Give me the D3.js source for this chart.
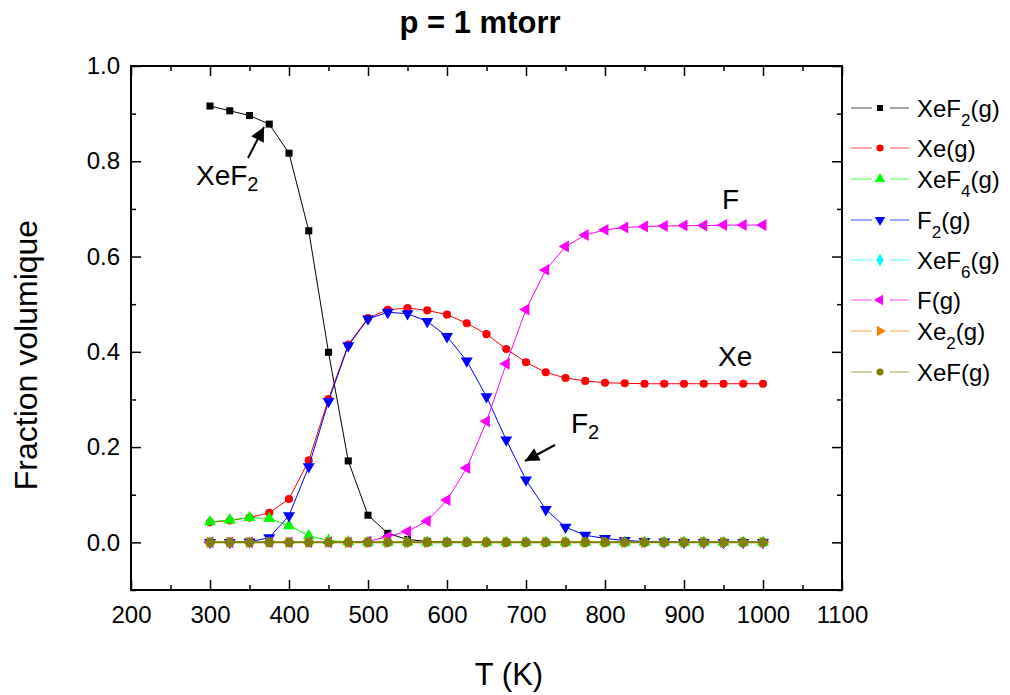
<!DOCTYPE html>
<html><head><meta charset="utf-8">
<script src="https://cdn.jsdelivr.net/npm/d3@7"></script>
<style>body{margin:0;background:#fff}svg{font-family:"Liberation Sans",Arial,sans-serif}</style>
</head><body><svg id="c" width="1010" height="695"></svg>
<script>
const temps = [300,325,350,375,400,425,450,475,500,525,550,575,600,625,650,675,700,725,750,775,800,825,850,875,900,925,950,975,1000];
const xef2 = [0.916,0.906,0.896,0.878,0.817,0.654,0.399,0.171,0.057,0.019,0.006,0.002,0.001,0,0,0,0,0,0,0,0,0,0,0,0,0,0,0,0];
const xe   = [0.042,0.046,0.052,0.062,0.091,0.172,0.301,0.415,0.471,0.488,0.492,0.487,0.478,0.460,0.437,0.406,0.378,0.357,0.345,0.339,0.335,0.334,0.333,0.333,0.333,0.333,0.333,0.333,0.333];
const xef4 = [0.043,0.047,0.052,0.050,0.035,0.014,0.004,0.001,0,0,0,0,0,0,0,0,0,0,0,0,0,0,0,0,0,0,0,0,0];
const f2   = [0,0,0.001,0.010,0.056,0.159,0.296,0.413,0.469,0.483,0.480,0.464,0.432,0.381,0.306,0.215,0.131,0.069,0.032,0.015,0.008,0.004,0.002,0.001,0,0,0,0,0];
const xef6 = [0,0,0,0,0,0,0,0,0,0,0,0,0,0,0,0,0,0,0,0,0,0,0,0,0,0,0,0,0];
const fAt  = [0,0,0,0,0,0,0,0,0.002,0.012,0.023,0.045,0.089,0.156,0.254,0.375,0.489,0.572,0.621,0.645,0.656,0.661,0.663,0.664,0.665,0.665,0.666,0.666,0.666];
const xe2  = [0,0,0,0,0,0,0,0,0,0,0,0,0,0,0,0,0,0,0,0,0,0,0,0,0,0,0,0,0];
const xef  = [0,0,0,0,0,0,0,0,0,0,0,0,0,0,0,0,0,0,0,0,0,0,0,0,0,0,0,0,0];
const xTicks = [200,300,400,500,600,700,800,900,1000,1100];
const yTicks = [0.0,0.2,0.4,0.6,0.8,1.0];

const series = [
  {name:"XeF", sub:"2", tail:"(g)", vals:xef2, color:"#000000", sym:"square"},
  {name:"Xe", sub:"", tail:"(g)", vals:xe, color:"#ff0000", sym:"circle"},
  {name:"XeF", sub:"4", tail:"(g)", vals:xef4, color:"#00ff00", sym:"up"},
  {name:"F", sub:"2", tail:"(g)", vals:f2, color:"#0000ff", sym:"down"},
  {name:"XeF", sub:"6", tail:"(g)", vals:xef6, color:"#00ffff", sym:"diamond"},
  {name:"F", sub:"", tail:"(g)", vals:fAt, color:"#ff00ff", sym:"left"},
  {name:"Xe", sub:"2", tail:"(g)", vals:xe2, color:"#ff8000", sym:"right"},
  {name:"XeF", sub:"", tail:"(g)", vals:xef, color:"#808000", sym:"circle", big:true}
];

const svg = d3.select("#c");
const L=131,R=842,T=66,B=590;
const x = d3.scaleLinear([200,1100],[L,R]);
const y = d3.scaleLinear([-0.1,1.0],[B,T]);

function symPath(kind, size){
  const map = {square:d3.symbolSquare, circle:d3.symbolCircle, diamond:d3.symbolDiamond,
    up:d3.symbolTriangle, down:d3.symbolTriangle, left:d3.symbolTriangle, right:d3.symbolTriangle};
  return d3.symbol().type(map[kind]).size(size)();
}
const rot = {up:0, down:180, left:-90, right:90};

// series
series.forEach(s=>{
  const pts = temps.map((t,i)=>[t,s.vals[i]]);
  svg.append("path").attr("d", d3.line().x(d=>x(d[0])).y(d=>y(d[1]))(pts))
    .attr("fill","none").attr("stroke",s.color).attr("stroke-width",s.big?2:1);
  const sz = s.big?72:(s.sym==="square"?50:(s.sym==="circle"?52:(s.sym==="diamond"?40:62)));
  svg.append("g").selectAll("path").data(pts).join("path")
    .attr("d", symPath(s.sym, sz))
    .attr("transform", d=>`translate(${x(d[0])},${y(d[1])}) rotate(${rot[s.sym]||0})`)
    .attr("fill", s.color);
});

// axes
const fmtY = d3.format(".1f");
const ax = (g, axis)=>g.call(axis).call(g=>g.select(".domain").remove()).call(g=>g.selectAll("line").attr("stroke","#000").attr("stroke-width",1.5));
const xMinor = d3.range(250,1100,100);
const yMinor = [-0.1,0.1,0.3,0.5,0.7,0.9];
ax(svg.append("g").attr("transform",`translate(0,${B})`), d3.axisBottom(x).tickValues(xTicks).tickSize(-10).tickPadding(14).tickFormat(d3.format("d")))
  .selectAll("text").attr("font-size",24).attr("fill","#000").attr("dy","0.71em").attr("y",16);
ax(svg.append("g").attr("transform",`translate(0,${B})`), d3.axisBottom(x).tickValues(xMinor).tickSize(-5).tickFormat(""));
ax(svg.append("g").attr("transform",`translate(0,${T})`), d3.axisTop(x).tickValues(xTicks).tickSize(-10).tickFormat(""));
ax(svg.append("g").attr("transform",`translate(0,${T})`), d3.axisTop(x).tickValues(xMinor).tickSize(-5).tickFormat(""));
ax(svg.append("g").attr("transform",`translate(${L},0)`), d3.axisLeft(y).tickValues(yTicks).tickSize(-10).tickPadding(12).tickFormat(fmtY))
  .selectAll("text").attr("font-size",24).attr("fill","#000").attr("x",-11);
ax(svg.append("g").attr("transform",`translate(${L},0)`), d3.axisLeft(y).tickValues(yMinor).tickSize(-5).tickFormat(""));
ax(svg.append("g").attr("transform",`translate(${R},0)`), d3.axisRight(y).tickValues(yTicks).tickSize(-10).tickFormat(""));
ax(svg.append("g").attr("transform",`translate(${R},0)`), d3.axisRight(y).tickValues(yMinor).tickSize(-5).tickFormat(""));
svg.append("rect").attr("x",L).attr("y",T).attr("width",R-L).attr("height",B-T)
  .attr("fill","none").attr("stroke","#000").attr("stroke-width",2);

// titles
svg.append("text").attr("x",480).attr("y",33).attr("text-anchor","middle")
  .attr("font-size",31).attr("font-weight","bold").text("p = 1 mtorr");
svg.append("text").attr("x",509).attr("y",685).attr("text-anchor","middle")
  .attr("font-size",31).text("T (K)");
svg.append("text").attr("transform","translate(37,355) rotate(-90)").attr("text-anchor","middle")
  .attr("font-size",32).text("Fraction volumique");

// legend
const legY = [108,148,179,220,260,300,331,372];
series.forEach((s,i)=>{
  const g = svg.append("g").attr("transform",`translate(0,${legY[i]})`);
  g.append("line").attr("x1",851).attr("x2",872).attr("stroke",s.color).attr("stroke-opacity",0.6).attr("stroke-width",1.2);
  g.append("line").attr("x1",890).attr("x2",909).attr("stroke",s.color).attr("stroke-opacity",0.6).attr("stroke-width",1.2);
  const sz = s.sym==="square"?36:(s.sym==="circle"?40:48);
  g.append("path").attr("d",symPath(s.sym,sz)).attr("transform",`translate(880,0) rotate(${rot[s.sym]||0})`).attr("fill",s.color);
  const t = g.append("text").attr("x",917).attr("y",9).attr("font-size",24);
  t.append("tspan").text(s.name);
  if(s.sub){ t.append("tspan").attr("font-size",17).attr("dy",9).text(s.sub); t.append("tspan").attr("dy",-9).text(s.tail); }
  else t.append("tspan").text(s.tail);
});

// annotations
svg.append("defs").append("marker").attr("id","ah").attr("viewBox","0 0 10 10").attr("refX",10).attr("refY",5)
  .attr("markerWidth",16).attr("markerHeight",14).attr("markerUnits","userSpaceOnUse").attr("orient","auto")
  .append("path").attr("d","M0,0 L10,5 L0,10 z").attr("fill","#000");
function label(xp,yp,main,sub){
  const t = svg.append("text").attr("x",xp).attr("y",yp).attr("font-size",28);
  t.append("tspan").text(main);
  if(sub) t.append("tspan").attr("font-size",20).attr("dy",6).text(sub);
}
label(196,185,"XeF","2");
svg.append("line").attr("x1",248).attr("y1",158).attr("x2",264).attr("y2",127).attr("stroke","#000").attr("stroke-width",2).attr("marker-end","url(#ah)");
label(571,433,"F","2");
svg.append("line").attr("x1",555).attr("y1",445).attr("x2",525).attr("y2",461).attr("stroke","#000").attr("stroke-width",2).attr("marker-end","url(#ah)");
label(722,209,"F","");
label(718,366,"Xe","");
</script></body></html>
